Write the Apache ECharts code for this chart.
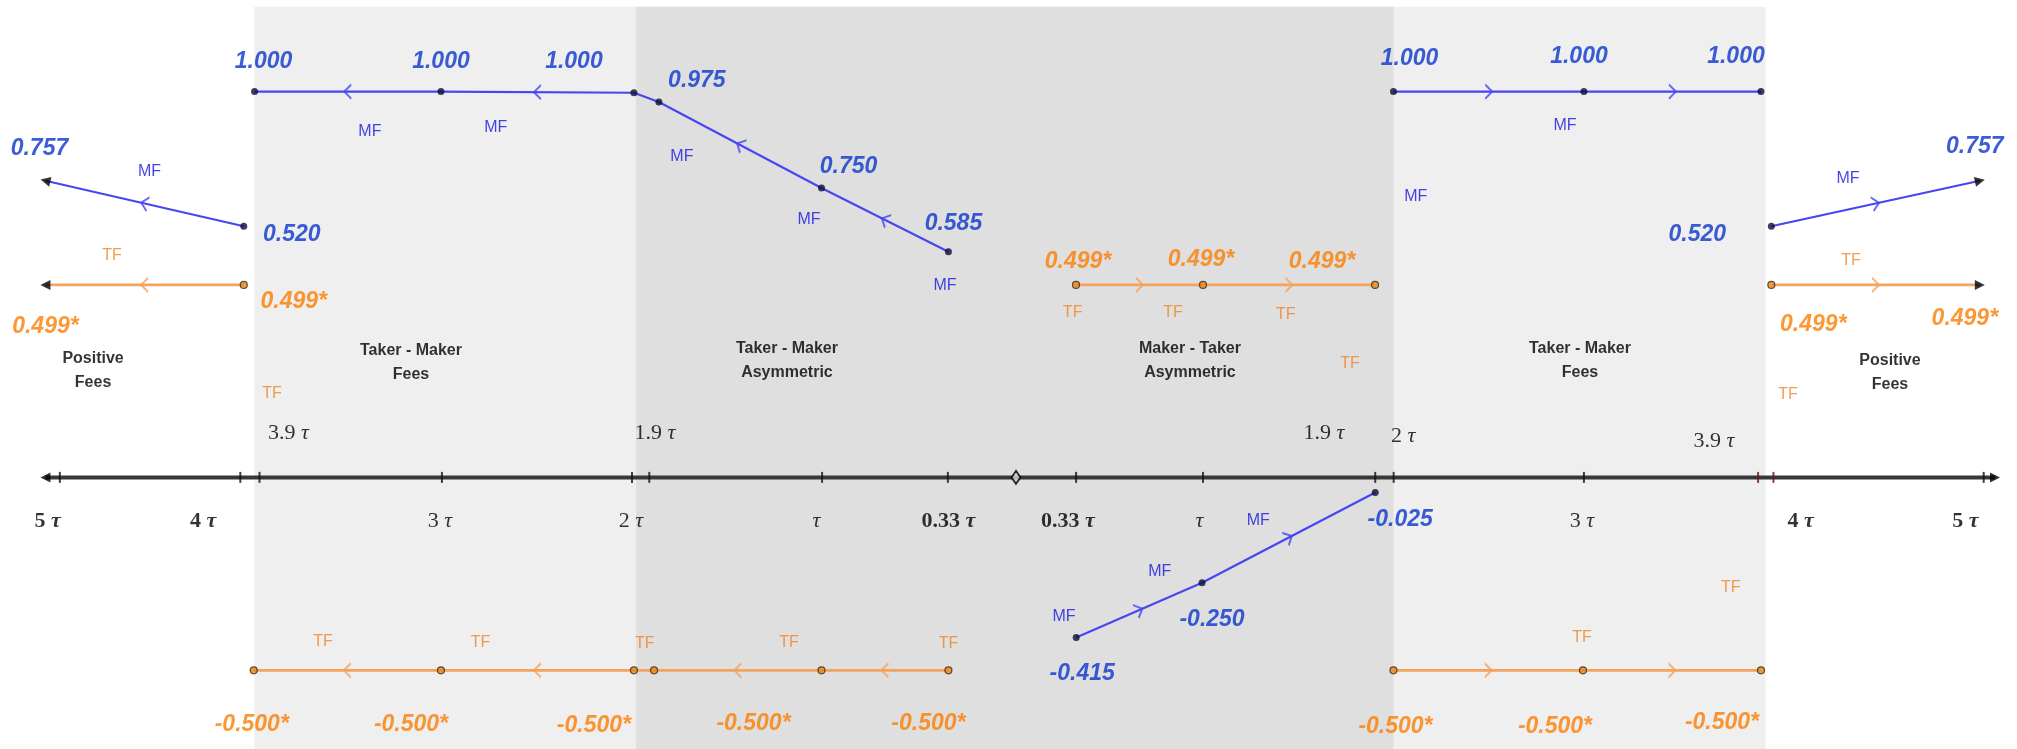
<!DOCTYPE html>
<html>
<head>
<meta charset="utf-8">
<script src="https://cdn.jsdelivr.net/npm/echarts@6/dist/echarts.min.js"></script>
<style>
  html, body { margin: 0; padding: 0; background: #fff; }
  #chart { width: 2017px; height: 749px; }
</style>
</head>
<body>
<div id="chart"></div>
<script>
// x = position along the tau line (left half negative), y = fee level as drawn

// tau axis ticks
var tickPos = [-4.98, -4.04, -3.94, -2.99, -2.00, -1.91, -1.01, -0.355, 0.313, 0.974, 1.871, 1.967, 2.958, 3.865, 3.945, 5.04];
var redTicks = [3.865, 3.945];
var axisEnds = [-5.055, 5.099];

// tick labels under the axis
var belowText = ['5', '4', '3', '2', '', '0.33', '0.33', '', '3', '4', '5'];
var belowBold = [true, true, false, false, false, true, true, false, false, true, true];
var belowAt = [-5.043, -4.234, -3.0, -2.005, -1.039, -0.352, 0.27, 0.956, 2.948, 4.087, 4.945];
// tick labels over the axis
var aboveText = ['3.9', '1.9', '1.9', '2', '3.9'];
var aboveAt = [[-3.79, 0.1146], [-1.881, 0.1146], [1.604, 0.1146], [2.016, 0.1058], [3.635, 0.0946]];

// shaded fee regimes
var outerZone = [-3.966, 3.904];
var innerZone = [-1.979, 1.966];
var zoneTop = 1.22;
var zoneNames = ['Positive\nFees', 'Taker - Maker\nFees', 'Taker - Maker\nAsymmetric', 'Maker - Taker\nAsymmetric', 'Taker - Maker\nFees', 'Positive\nFees'];
var zoneNameAt = [[-4.807, 0.277], [-3.151, 0.297], [-1.193, 0.302], [0.906, 0.302], [2.9375, 0.302], [4.552, 0.271]];

// maker fee (MF) paths, listed in the direction of the arrows
var mfTopLeftX = [-0.352, -1.013, -1.86, -1.99, -2.995, -3.966];
var mfTopLeftY = [0.585, 0.750, 0.973, 0.997, 1.0, 1.0];
var mfTopLeftLbl = ['0.585', '0.750', '0.975', '1.000', '1.000', '1.000'];
var mfTopRightX = [1.966, 2.958, 3.88];
var mfTopRightY = [1.0, 1.0, 1.0];
var mfTopRightLbl = ['1.000', '1.000', '1.000'];
var mfLowX = [0.3135, 0.969, 1.871];
var mfLowY = [-0.415, -0.273, -0.039];
var mfLowLbl = ['-0.415', '-0.250', '-0.025'];
var mfPosLeftX = [-4.022, -5.055];
var mfPosRightX = [3.934, 5.02];
var mfPosY = [0.651, 0.769];
var mfPosLbl = ['0.520', '0.757'];

// taker fee (TF) paths
var tfPosLeftX = [-4.022, -5.055];
var tfPosRightX = [3.934, 5.02];
var tfPosY = [0.499, 0.499];
var tfPosLbl = ['0.499*', '0.499*'];
var tfMidX = [0.3125, 0.974, 1.87];
var tfMidY = [0.499, 0.499, 0.499];
var tfMidLbl = ['0.499*', '0.499*', '0.499*'];
var tfLowLeftX = [-0.352, -1.013, -1.885, -1.99, -2.995, -3.97];
var tfLowLeftY = [-0.5, -0.5, -0.5, -0.5, -0.5, -0.5];
var tfLowLeftLbl = ['-0.500*', '-0.500*', '', '-0.500*', '-0.500*', '-0.500*'];
var tfLowRightX = [1.966, 2.953, 3.88];
var tfLowRightY = [-0.5, -0.5, -0.5];
var tfLowRightLbl = ['-0.500*', '-0.500*', '-0.500*'];

// "MF" / "TF" tags
var mfNotes = [[-4.513, 0.793], [-3.365, 0.896], [-2.71, 0.907], [-1.74, 0.832], [-1.078, 0.669], [-0.37, 0.497],
  [2.859, 0.911], [2.082, 0.728], [4.333, 0.774], [0.25, -0.361], [0.749, -0.244], [1.262, -0.113]];
var tfNotes = [[-4.708, 0.575], [-3.875, 0.216], [0.295, 0.428], [0.818, 0.428], [1.405, 0.421], [1.74, 0.296],
  [4.021, 0.214], [4.349, 0.561], [3.723, -0.285], [2.948, -0.414], [-3.609, -0.426], [-2.789, -0.428],
  [-1.933, -0.43], [-1.182, -0.428], [-0.352, -0.43]];

// label offsets in pixels (layout only)
var offs = {
  mfTopLeft: [[5, -28], [27, -21], [38, -21], [-60, -31], [0, -30], [9, -30]],
  mfTopRight: [[16, -33], [-5, -35], [-25, -35]],
  mfLow: [[6, 36], [10, 37], [25, 27]],
  mfPosLeft: [[48, 8], [-6, -32]],
  mfPosRight: [[-74, 8], [-5, -34]],
  tfPosLeft: [[50, 17], [0, 42]],
  tfPosRight: [[42, 40], [-15, 34]],
  tfMid: [[2, -23], [-2, -25], [-53, -23]],
  tfLowLeft: [[-20, 53], [-68, 53], [0, 0], [-40, 55], [-30, 54], [-2, 54]],
  tfLowRight: [[2, 56], [-28, 56], [-39, 52]]
};

var MF_LINE = '#4646f2', TF_LINE = '#f4a35e';
var MF_TEXT = '#0a34cc', TF_TEXT = '#fb7d00';
var MF_TAG = '#1414e0', TF_TAG = '#ee8424';

var paths = [
  { id: 'mfTopLeft', x: mfTopLeftX, y: mfTopLeftY, lbl: mfTopLeftLbl, mf: true },
  { id: 'mfTopRight', x: mfTopRightX, y: mfTopRightY, lbl: mfTopRightLbl, mf: true },
  { id: 'mfLow', x: mfLowX, y: mfLowY, lbl: mfLowLbl, mf: true },
  { id: 'mfPosLeft', x: mfPosLeftX, y: mfPosY, lbl: mfPosLbl, mf: true, arrow: true },
  { id: 'mfPosRight', x: mfPosRightX, y: mfPosY, lbl: mfPosLbl, mf: true, arrow: true },
  { id: 'tfPosLeft', x: tfPosLeftX, y: tfPosY, lbl: tfPosLbl, arrow: true },
  { id: 'tfPosRight', x: tfPosRightX, y: tfPosY, lbl: tfPosLbl, arrow: true },
  { id: 'tfMid', x: tfMidX, y: tfMidY, lbl: tfMidLbl },
  { id: 'tfLowLeft', x: tfLowLeftX, y: tfLowLeftY, lbl: tfLowLeftLbl },
  { id: 'tfLowRight', x: tfLowRightX, y: tfLowRightY, lbl: tfLowRightLbl }
];

var chart = echarts.init(document.getElementById('chart'));

function angleOf(a, b) {
  if (!chart.getModel()) return 0;
  var pa = chart.convertToPixel({ gridIndex: 0 }, a);
  var pb = chart.convertToPixel({ gridIndex: 0 }, b);
  return Math.atan2(pa[1] - pb[1], pb[0] - pa[0]) * 180 / Math.PI;
}

function noteSeries(list, texts, color, size, weight, lineH) {
  return {
    type: 'scatter', symbolSize: 1, itemStyle: { color: 'transparent' }, silent: true, z: 6,
    data: list.map(function (p, i) {
      return { value: p, label: { formatter: typeof texts === 'string' ? texts : texts[i] } };
    }),
    label: {
      show: true, position: 'inside', color: color, fontSize: size, fontWeight: weight,
      fontFamily: 'Liberation Sans', lineHeight: lineH || size, align: 'center', verticalAlign: 'middle'
    }
  };
}

function tauLabel(num, bold) {
  var k = bold ? 'b' : 'n';
  return (num ? '{' + k + '|' + num + '}{' + k + '| }' : '') + '{' + k + 't|τ}';
}

function buildOption() {
  var series = [];

  // shaded regimes
  series.push({
    type: 'line', data: [], z: 0, silent: true,
    markArea: {
      silent: true,
      data: [
        [{ xAxis: outerZone[0], yAxis: zoneTop, itemStyle: { color: '#efefef' } }, { xAxis: outerZone[1], yAxis: -0.704 }],
        [{ xAxis: innerZone[0], yAxis: zoneTop, itemStyle: { color: '#dfdfdf' } }, { xAxis: innerZone[1], yAxis: -0.704 }]
      ]
    }
  });

  // tau axis
  series.push({
    type: 'line', data: [[axisEnds[0], 0], [axisEnds[1], 0]], symbol: 'none', silent: true, z: 2,
    lineStyle: { color: '#383838', width: 4 }
  });
  series.push({
    type: 'scatter', symbol: 'rect', symbolSize: [2, 11], silent: true, z: 3,
    data: tickPos.map(function (t) {
      return { value: [t, 0], itemStyle: { color: redTicks.indexOf(t) >= 0 ? '#6a1414' : '#111' } };
    })
  });
  series.push({
    type: 'scatter', symbol: 'diamond', symbolSize: [9, 13], silent: true, z: 4,
    data: [[0, 0]], itemStyle: { color: '#d8d8d8', borderColor: '#000', borderWidth: 2 }
  });

  // tick labels
  var rich = {
    n: { fontFamily: 'Liberation Serif', fontSize: 22, color: '#000' },
    nt: { fontFamily: 'Liberation Serif', fontSize: 22, fontStyle: 'italic', color: '#000' },
    b: { fontFamily: 'Liberation Serif', fontSize: 22, fontWeight: 'bold', color: '#000' },
    bt: { fontFamily: 'Liberation Serif', fontSize: 22, fontWeight: 'bold', fontStyle: 'italic', color: '#000' }
  };
  series.push({
    type: 'scatter', symbolSize: 1, itemStyle: { color: 'transparent' }, silent: true, z: 6,
    data: belowAt.map(function (x, i) {
      return { value: [x, -0.114], label: { formatter: tauLabel(belowText[i], belowBold[i]) } };
    }).concat(aboveAt.map(function (p, i) {
      return { value: p, label: { formatter: tauLabel(aboveText[i], false) } };
    })),
    label: { show: true, position: 'inside', rich: rich, align: 'center', verticalAlign: 'middle' }
  });

  // fee paths
  var chevrons = [], heads = [];
  paths.forEach(function (p) {
    var lineCol = p.mf ? MF_LINE : TF_LINE;
    var pts = p.x.map(function (x, i) { return [x, p.y[i]]; });
    series.push({
      type: 'line', data: pts, symbol: 'none', silent: true, z: 3,
      lineStyle: { color: lineCol, width: p.mf ? 2.2 : 2.8 }
    });
    var dots = p.arrow ? pts.slice(0, pts.length - 1) : pts;
    series.push({
      type: 'scatter', symbol: 'circle', symbolSize: 7, silent: true, z: 5, data: dots,
      itemStyle: p.mf ? { color: '#0c0c36' } : { color: '#e8861e', borderColor: '#3a2a10', borderWidth: 1.2 }
    });
    series.push({
      type: 'scatter', symbolSize: 1, itemStyle: { color: 'transparent' }, silent: true, z: 6,
      data: pts.map(function (q, i) {
        return p.lbl[i] ? { value: q, label: { formatter: p.lbl[i], offset: offs[p.id][i] } } : null;
      }).filter(Boolean),
      label: {
        show: true, position: 'inside', color: p.mf ? MF_TEXT : TF_TEXT, fontSize: 23,
        fontWeight: 'bold', fontStyle: 'italic', fontFamily: 'Liberation Sans'
      }
    });
    for (var i = 0; i < pts.length - 1; i++) {
      if (Math.abs(pts[i + 1][0] - pts[i][0]) < 0.2) continue;
      chevrons.push({
        value: [(pts[i][0] + pts[i + 1][0]) / 2, (pts[i][1] + pts[i + 1][1]) / 2],
        symbolRotate: angleOf(pts[i], pts[i + 1]),
        itemStyle: { borderColor: lineCol }
      });
    }
    if (p.arrow) {
      var n = pts.length;
      heads.push({ value: pts[n - 1], symbolRotate: angleOf(pts[n - 2], pts[n - 1]) });
    }
  });
  heads.push({ value: [axisEnds[0], 0], symbolRotate: 180 });
  heads.push({ value: [axisEnds[1], 0], symbolRotate: 0 });

  series.push({
    type: 'scatter', symbol: 'path://M0,0 L7,6.5 L0,13', symbolSize: [7, 14], silent: true, z: 4,
    data: chevrons, itemStyle: { color: 'transparent', borderWidth: 1.8 }
  });
  series.push({
    type: 'scatter', symbol: 'path://M0,0 L10,5 L0,10 Z', symbolSize: [10, 10], silent: true, z: 5,
    data: heads, itemStyle: { color: '#000' }
  });

  // MF / TF tags and regime names
  series.push(noteSeries(mfNotes, 'MF', MF_TAG, 16, 'normal'));
  series.push(noteSeries(tfNotes, 'TF', TF_TAG, 16, 'normal'));
  series.push(noteSeries(zoneNameAt, zoneNames, '#000', 16, 'bold', 24));

  return {
    animation: false,
    backgroundColor: '#fff',
    grid: { left: 8, right: 2.6, top: 0, bottom: 0 },
    xAxis: { type: 'value', min: -5.25, max: 5.2, show: false },
    yAxis: { type: 'value', min: -0.704, max: 1.2374, show: false },
    series: series
  };
}

chart.setOption(buildOption());
// second pass: now pixel angles of the segments are known
chart.setOption(buildOption(), true);
</script>
</body>
</html>
